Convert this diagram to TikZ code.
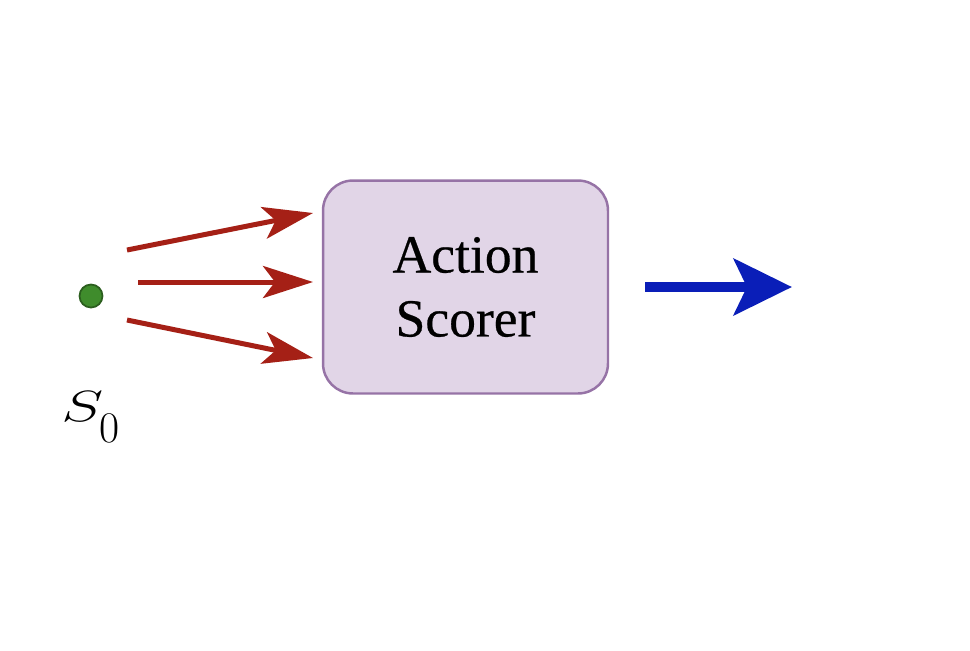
\documentclass[tikz,border=0pt]{standalone}
\usepackage{fontspec}
\setmainfont{Liberation Serif}
\usetikzlibrary{arrows.meta}
\definecolor{boxfill}{HTML}{E1D5E7}
\definecolor{boxline}{HTML}{9673A6}
\definecolor{redarrow}{HTML}{A52016}
\definecolor{bluearrow}{HTML}{0A1EB8}
\definecolor{dotfill}{HTML}{3F8C2C}
\definecolor{dotline}{HTML}{2B5E1E}
\tikzset{
  scorerbox/.style={draw=boxline, fill=boxfill, line width=1.4pt, rounded corners=0.6cm,
    minimum width=5.7cm, minimum height=4.26cm, align=center,
    font=\fontsize{30.5}{36.4}\selectfont\addfontfeature{FakeBold=0.5}, inner sep=0pt},
  inarrow/.style={draw=redarrow, line width=2.85pt,
    -{Stealth[length=1.0cm, width=0.64cm, inset=0.24cm]}},
  outarrow/.style={draw=bluearrow, line width=6.2pt,
    -{Stealth[length=1.16cm, width=1.12cm, inset=0.26cm]}},
  statedot/.style={circle, draw=dotline, fill=dotfill, line width=1pt,
    minimum size=0.46cm, inner sep=0pt},
  statelabel/.style={anchor=base west, inner sep=0pt}
}
\begin{document}
\begin{tikzpicture}[x=0.02cm, y=-0.02cm]
\useasboundingbox (0,0) rectangle (970,650);
\node[scorerbox] (scorer) at (465.5,287) {Action\\Scorer};
\node[statedot] (s0dot) at (91,296) {};
\node[statelabel] (s0) at (61,421) {\fontsize{34}{36}\selectfont\scalebox{1.45}[1]{$S$}\kern-0.08cm\raisebox{-0.42cm}{\fontsize{24}{26}\selectfont$0$}};
\coordinate (a1s) at (127,250);
\coordinate (a1e) at (313,213);
\coordinate (a2s) at (138,282);
\coordinate (a2e) at (313,282);
\coordinate (a3s) at (127,320);
\coordinate (a3e) at (313,358);
\coordinate (bs) at (645,287);
\coordinate (be) at (792,287);
\draw[inarrow] (a1s) -- (a1e);
\draw[inarrow] (a2s) -- (a2e);
\draw[inarrow] (a3s) -- (a3e);
\draw[outarrow] (bs) -- (be);
\end{tikzpicture}
\end{document}
